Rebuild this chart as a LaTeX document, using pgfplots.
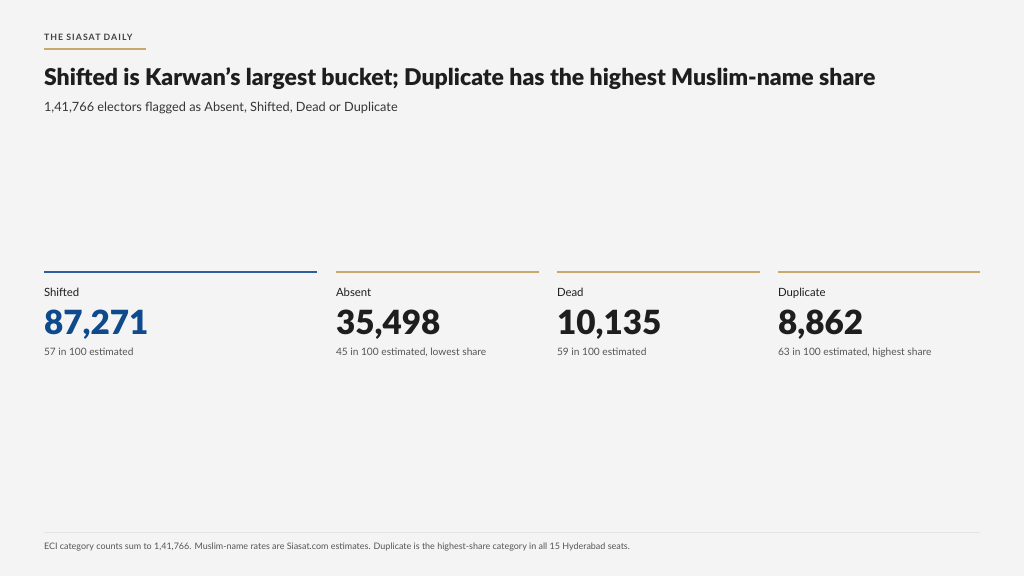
\documentclass[border=0pt]{standalone}
\usepackage{fontspec}
\setmainfont{Lato}
\newfontfamily\heavy{Lato Black}
\usepackage{pgfplots}
\pgfplotsset{compat=1.18}
\definecolor{bg}{HTML}{F4F4F4}
\definecolor{ink}{HTML}{1E1E1E}
\definecolor{muted}{HTML}{555555}
\definecolor{gold}{HTML}{C9A86C}
\definecolor{navy}{HTML}{0E4A8C}
\definecolor{rule}{HTML}{2F5E9C}
\definecolor{hair}{HTML}{E3E3E3}
\tikzset{txt/.style={anchor=base west, inner sep=0pt, outer sep=0pt}}

% card: x start, x end, label, number colour, line colour, line width
\newcommand{\card}[6]{%
  \addplot[#5, line width=#6, forget plot] coordinates {(#1,272) (#2,272)};
  \node[txt, text=ink, font=\fontsize{11.4}{13}\selectfont] at (axis cs:#1,296) {#3};
  \node[txt, text=#4, font=\fontsize{33.4}{38}\selectfont\heavy] at (axis cs:#1,334) {\csname cnt#3\endcsname};
  \node[txt, text=muted, font=\fontsize{10.2}{12}\selectfont] at (axis cs:#1,355) {\csname note#3\endcsname};
}
\newcommand{\cntShifted}{87,271}
\newcommand{\cntAbsent}{35,498}
\newcommand{\cntDead}{10,135}
\newcommand{\cntDuplicate}{8,862}
\newcommand{\noteShifted}{57 in 100 estimated}
\newcommand{\noteAbsent}{45 in 100 estimated, lowest share}
\newcommand{\noteDead}{59 in 100 estimated}
\newcommand{\noteDuplicate}{63 in 100 estimated, highest share}

\begin{document}
\begin{tikzpicture}
\begin{axis}[
    hide axis, scale only axis,
    width=1024bp, height=576bp,
    xmin=0, xmax=1024, ymin=0, ymax=576,
    y dir=reverse, clip=false
]
\fill[bg] (axis cs:0,0) rectangle (axis cs:1024,576);

% header
\node[txt, text=ink!85, font=\fontsize{8.8}{10}\selectfont\bfseries\addfontfeature{LetterSpace=12}]
  at (axis cs:44,41) {THE SIASAT DAILY};
\addplot[gold, line width=1.5bp, forget plot] coordinates {(44,49) (146,49)};
\node[txt, text=ink, font=\fontsize{23.1}{27}\selectfont\heavy]
  at (axis cs:44,86) {Shifted is Karwan’s largest bucket; Duplicate has the highest Muslim-name share};
\node[txt, text=ink!90, font=\fontsize{12.8}{15}\selectfont]
  at (axis cs:44,111) {1,41,766 electors flagged as Absent, Shifted, Dead or Duplicate};

% cards
\card{44}{317}{Shifted}{navy}{rule}{1.8bp}
\card{336}{539}{Absent}{ink}{gold}{1.4bp}
\card{557}{760}{Dead}{ink}{gold}{1.4bp}
\card{778}{980}{Duplicate}{ink}{gold}{1.4bp}

% footer
\addplot[hair, line width=0.8bp, forget plot] coordinates {(44,532) (980,532)};
\node[txt, text=muted, font=\fontsize{9}{10}\selectfont]
  at (axis cs:44,549) {ECI category counts sum to 1,41,766. Muslim-name rates are Siasat.com estimates. Duplicate is the highest-share category in all 15 Hyderabad seats.};
\end{axis}
\end{tikzpicture}
\end{document}
